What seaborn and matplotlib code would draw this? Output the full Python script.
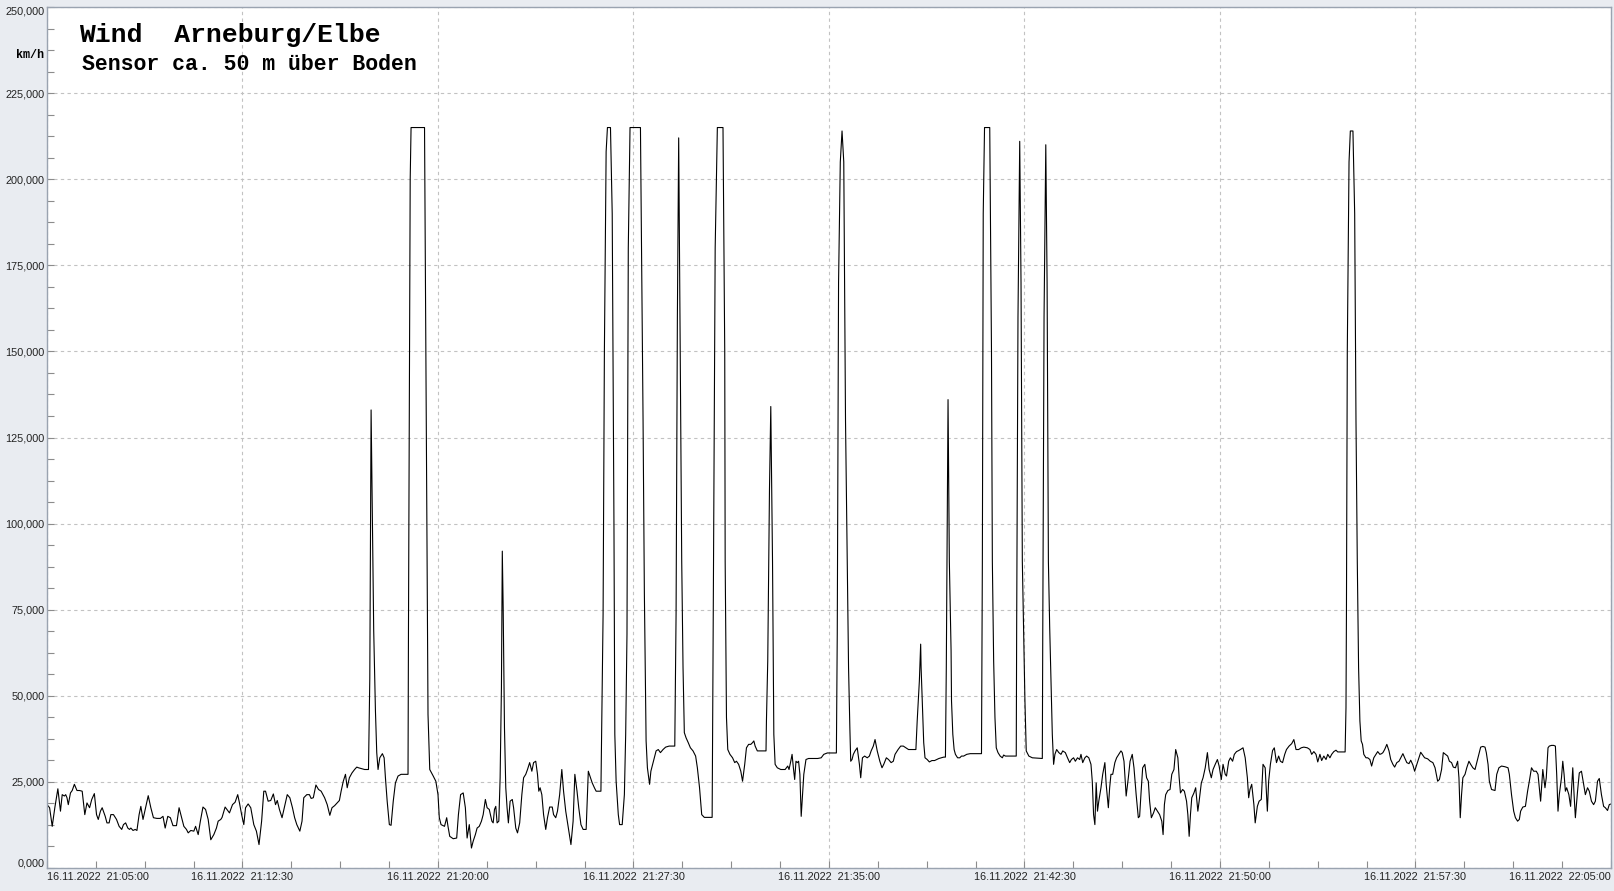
import matplotlib
matplotlib.use("Agg")
import matplotlib.pyplot as plt
import seaborn as sns
import pandas as pd
from matplotlib.ticker import MultipleLocator

# ---------------- data ----------------
# seconds after 16.11.2022 21:05:00
seconds = [
    0, 6, 12, 18, 25, 31, 35, 40, 43, 46, 49, 54, 58, 63, 69, 75, 81, 87, 92, 98,
    103, 109, 114, 118, 123, 127, 134, 138, 143, 147, 153, 160, 166, 172, 176, 181, 186, 190, 193, 198,
    203, 207, 212, 216, 221, 226, 233, 239, 245, 253, 261, 267, 272, 278, 284, 290, 298, 304, 310, 315,
    321, 325, 331, 338, 342, 348, 353, 359, 365, 371, 377, 384, 390, 394, 400, 403, 410, 414, 420, 427,
    433, 439, 443, 448, 453, 457, 463, 469, 476, 482, 488, 494, 499, 503, 509,
    515, 521, 526, 530, 535, 541, 547, 553, 559, 565, 570, 575, 582, 587, 591, 598, 604, 608, 613, 619,
    625, 631, 639, 645, 651, 656, 662, 668, 673, 677, 682, 687, 691, 696, 702, 708, 713, 717, 723, 731,
    740, 743, 746, 752, 756, 759, 762, 766, 772, 776, 779, 783, 788, 792, 797, 802, 808, 815, 831, 832,
    836, 838, 869, 877, 881, 889, 895, 900, 903, 907, 915, 920, 923, 927, 935, 943, 947, 952, 958, 963,
    967, 972, 977, 981, 986, 990, 995, 1000, 1004, 1009, 1013, 1018, 1024,
    1027, 1030, 1033, 1036, 1040, 1043, 1046, 1048, 1050, 1053, 1056, 1059, 1062, 1066, 1071, 1074, 1079, 1083, 1088, 1093,
    1097, 1102, 1106, 1111, 1116, 1120, 1125, 1129, 1132, 1135, 1139, 1143, 1148, 1152, 1157, 1163, 1166, 1171, 1175, 1180,
    1185, 1189, 1194, 1200, 1206, 1211, 1215, 1220, 1224, 1229, 1234, 1241, 1246, 1251, 1255, 1260, 1264, 1275, 1280, 1283,
    1287, 1290, 1297, 1301, 1305, 1307, 1310, 1315, 1318, 1324, 1329, 1332, 1335, 1338, 1342, 1366, 1372, 1375, 1379, 1382,
    1387, 1390, 1396, 1402, 1407, 1412, 1418, 1424, 1432, 1445, 1448, 1451, 1454, 1457, 1461, 1464, 1467, 1471, 1476, 1481,
    1487, 1493, 1497, 1502, 1507, 1513, 1521, 1531, 1533, 1538, 1543, 1556, 1560, 1561,
    1564, 1567, 1572, 1578, 1583, 1587, 1592, 1597, 1601, 1606, 1610, 1615, 1620, 1624, 1627, 1630, 1635, 1655, 1656, 1659,
    1663, 1666, 1670, 1673, 1676, 1681, 1689, 1699, 1705, 1708, 1712, 1715, 1718, 1721, 1724, 1727, 1730, 1733, 1736, 1739,
    1742, 1747, 1753, 1774, 1782, 1788, 1796, 1817, 1819, 1822, 1826, 1830, 1834, 1838, 1842, 1845, 1848, 1850, 1853, 1856,
    1860, 1865, 1870, 1873, 1877, 1882, 1888, 1893, 1897, 1902, 1906, 1911, 1917, 1922, 1926, 1932, 1937, 1943, 1948, 1952,
    1959, 1965, 1971, 1977, 1983, 2000, 2003, 2008, 2011, 2012, 2015, 2018, 2021, 2026, 2031, 2037, 2043, 2053,
    2064, 2068, 2070, 2074, 2077, 2081, 2082, 2085, 2088, 2091, 2096, 2101, 2105, 2110, 2117, 2125, 2151, 2153, 2155, 2158,
    2170, 2174, 2176, 2179, 2182, 2185, 2189, 2194, 2199, 2202, 2206, 2231, 2232, 2235, 2239, 2242, 2245, 2248, 2251, 2254,
    2260, 2268, 2291, 2292, 2295, 2299, 2302, 2305, 2308, 2311, 2314, 2317, 2320, 2324, 2329, 2334, 2338, 2344, 2349, 2354,
    2358, 2363, 2367, 2372, 2377, 2380, 2384, 2389, 2393, 2398, 2403, 2406, 2409, 2412, 2415, 2418, 2421, 2426, 2430, 2435,
    2438, 2443, 2446, 2449, 2453, 2458, 2462, 2467, 2472, 2475, 2479, 2484, 2489, 2493, 2498, 2502, 2507, 2512, 2515, 2518,
    2522, 2527, 2531, 2535, 2538, 2542, 2547, 2551, 2556, 2561,
    2566, 2569, 2572, 2575, 2580, 2585, 2589, 2594, 2598, 2603, 2606, 2609, 2614, 2618, 2623, 2626, 2629, 2632, 2635, 2640,
    2644, 2649, 2652, 2657, 2661, 2666, 2671, 2675, 2680, 2684, 2689, 2694, 2698, 2703, 2707, 2712, 2715, 2720, 2724, 2729,
    2733, 2738, 2743, 2747, 2753, 2758, 2763, 2766, 2769, 2773, 2778, 2781, 2786, 2790, 2795, 2799, 2804, 2807, 2809, 2812,
    2816, 2821, 2825, 2830, 2835, 2839, 2844, 2849, 2853, 2859, 2865, 2870, 2875, 2881, 2887, 2893, 2901, 2907, 2911, 2916,
    2921, 2925, 2930, 2934, 2939, 2944, 2948, 2953, 2957, 2962, 2967, 2971, 2988, 2990, 2991, 2993, 2997, 3000, 3006, 3010,
    3013, 3016, 3019, 3022, 3025, 3028, 3031, 3036, 3040, 3045, 3049, 3054, 3059, 3063, 3068, 3072,
    3075, 3079, 3084, 3089, 3093, 3098, 3102, 3107, 3112, 3116, 3121, 3125, 3130, 3135, 3139, 3144, 3148, 3153, 3158, 3162,
    3167, 3171, 3178, 3184, 3190, 3195, 3198, 3201, 3205, 3210, 3214, 3219, 3224, 3228, 3233, 3237, 3242, 3247, 3250, 3253,
    3256, 3259, 3264, 3268, 3273, 3277, 3282, 3287, 3291, 3296, 3300, 3305, 3310, 3313, 3317, 3320, 3325, 3333, 3337, 3342,
    3348, 3356, 3363, 3366, 3371, 3376, 3380, 3385, 3389, 3392, 3397, 3403, 3408, 3412, 3417, 3422, 3428, 3432, 3438, 3443,
    3448, 3451, 3455, 3458, 3463, 3468, 3472, 3475, 3478, 3481, 3486, 3489, 3492, 3495, 3498, 3503, 3507, 3512, 3515, 3518,
    3523, 3527, 3532, 3537, 3541, 3546, 3550, 3555, 3560, 3564, 3569, 3573, 3578, 3583, 3587, 3592, 3596, 3600,
]

# wind speed, km/h
speed_kmh = [
    18.4, 17.5, 12.1, 17.5, 23.0, 16.5, 21.3, 20.9, 21.3, 20.4, 18.4, 21.8, 22.5, 24.3, 22.5, 22.5, 22.3, 15.5, 18.9, 17.5,
    19.9, 21.6, 15.5, 14.1, 16.5, 17.5, 15.0, 13.1, 13.1, 15.5, 15.5, 14.1, 12.1, 11.2, 12.6, 13.1, 11.6, 11.2, 11.6, 10.9,
    11.2, 10.9, 15.5, 17.9, 14.1, 17.0, 21.0, 17.5, 14.6, 14.4, 14.4, 15.0, 11.6, 15.0, 14.6, 12.3, 12.3, 17.5, 14.6, 12.1,
    11.2, 10.2, 10.9, 10.7, 12.1, 9.7, 13.6, 17.7, 17.0, 14.1, 8.2, 9.7, 11.6, 13.6, 14.1, 14.7, 17.7, 17.0, 16.0, 18.4,
    19.1, 21.3, 18.9, 15.5, 12.6, 17.5, 18.6, 17.5, 12.6, 10.7, 6.8, 13.6, 22.3, 22.3, 19.4,
    19.6, 21.5, 18.4, 19.6, 17.0, 14.6, 17.9, 21.3, 20.4, 17.5, 14.6, 12.6, 10.7, 13.6, 20.4, 21.3, 21.3, 20.2, 20.4, 24.1,
    22.8, 22.3, 20.4, 18.4, 15.3, 17.5, 18.1, 18.9, 19.6, 22.3, 25.2, 27.2, 23.3, 26.2, 27.6, 28.6, 29.3, 29.1, 28.9, 28.6,
    28.6, 55.0, 133.0, 69.0, 45.6, 33.5, 28.6, 32.0, 33.2, 32.0, 26.2, 19.4, 12.6, 12.4, 19.4, 24.7, 26.7, 27.2, 27.2, 68.0,
    200.0, 215.0, 215.0, 44.6, 28.6, 26.7, 25.2, 21.3, 14.6, 12.6, 12.1, 14.6, 12.1, 9.2, 8.5, 8.7, 15.5, 21.3, 21.8, 17.5,
    8.7, 12.6, 5.8, 7.8, 9.7, 11.6, 12.1, 13.6, 15.5, 19.9, 17.5, 17.0, 13.6,
    13.1, 17.0, 17.9, 13.1, 13.6, 26.2, 52.4, 92.0, 75.7, 40.7, 23.3, 17.5, 13.1, 19.4, 19.9, 17.5, 11.6, 10.2, 13.1, 21.3,
    26.2, 27.2, 28.6, 30.6, 28.1, 30.6, 31.0, 27.2, 22.3, 23.3, 21.3, 15.5, 11.2, 14.6, 17.7, 17.7, 15.5, 14.6, 16.5, 21.3,
    28.6, 22.3, 16.5, 11.6, 6.8, 13.6, 27.2, 22.3, 17.5, 12.6, 11.2, 11.2, 28.1, 26.2, 24.7, 23.3, 22.3, 22.3, 73.7, 150.0,
    208.0, 215.0, 215.0, 190.0, 100.0, 38.8, 25.2, 15.5, 12.6, 12.6, 21.3, 38.8, 67.9, 180.0, 215.0, 215.0, 130.0, 80.0, 36.9, 29.1,
    24.3, 28.1, 31.0, 34.0, 34.4, 33.5, 34.4, 35.1, 35.4, 35.4, 73.7, 160.0, 212.0, 160.0, 89.0, 58.2, 39.3, 37.8, 36.4, 34.9,
    34.0, 32.5, 29.1, 23.3, 15.5, 14.7, 14.7, 14.7, 60.0, 180.0, 215.0, 215.0, 150.0, 89.0,
    43.7, 34.4, 33.0, 32.0, 30.6, 31.0, 30.1, 28.1, 25.2, 30.1, 34.9, 35.9, 35.9, 36.4, 36.9, 35.4, 34.0, 34.0, 42.7, 60.1,
    110.0, 134.0, 89.0, 38.8, 30.1, 29.1, 28.6, 28.6, 29.6, 28.6, 31.0, 33.0, 29.1, 25.7, 31.0, 30.6, 31.0, 27.2, 15.0, 21.3,
    27.2, 31.5, 31.8, 31.8, 32.0, 33.0, 33.4, 33.4, 67.9, 170.0, 205.0, 214.0, 205.0, 130.0, 89.0, 58.2, 40.7, 31.0, 31.5, 33.0,
    34.0, 34.9, 30.1, 26.2, 32.0, 32.5, 32.0, 32.5, 34.0, 35.4, 37.3, 34.0, 31.0, 29.1, 30.1, 32.0, 31.5, 30.6, 31.0, 33.0,
    34.4, 35.4, 35.4, 34.9, 34.4, 34.4, 42.7, 54.3, 65.0, 58.2, 47.5, 36.4, 32.0, 31.5, 30.8, 31.2, 31.2, 31.8,
    32.2, 32.2, 58.2, 136.0, 89.0, 63.1, 48.5, 38.8, 34.4, 33.0, 32.0, 32.0, 32.5, 32.5, 33.0, 33.2, 33.2, 89.0, 190.0, 215.0,
    215.0, 150.0, 89.0, 60.1, 43.7, 34.9, 33.5, 32.5, 32.0, 32.8, 32.5, 32.5, 70.8, 160.0, 211.0, 170.0, 89.0, 68.9, 48.5, 34.0,
    32.5, 32.0, 31.8, 66.9, 160.0, 210.0, 170.0, 89.0, 69.8, 54.3, 38.8, 30.1, 33.0, 34.4, 33.5, 33.0, 34.0, 33.5, 32.0, 30.6,
    31.5, 32.0, 31.0, 32.0, 31.5, 33.0, 30.6, 32.0, 32.5, 32.0, 30.1, 25.2, 15.5, 12.6, 24.7, 16.5, 19.4, 23.3, 27.2, 30.6,
    24.3, 17.5, 23.3, 27.2, 27.2, 30.6, 32.0, 33.0, 34.0, 33.5, 31.0, 20.9, 26.2, 31.0, 33.0, 29.1, 21.3, 14.6, 15.0, 21.3,
    29.1, 30.1, 26.2, 25.2, 19.4, 14.6, 16.0, 17.5, 16.5, 15.5,
    13.6, 9.7, 18.4, 21.3, 22.5, 22.8, 27.2, 28.6, 34.4, 32.0, 26.2, 21.8, 22.8, 22.3, 19.4, 15.5, 9.2, 15.5, 20.4, 21.8,
    23.3, 16.5, 19.4, 24.7, 26.2, 29.1, 33.5, 28.6, 26.2, 28.6, 30.1, 31.5, 29.6, 25.7, 30.1, 27.2, 26.7, 31.0, 32.0, 31.0,
    33.0, 33.8, 34.1, 34.4, 34.9, 32.0, 26.2, 20.4, 22.8, 24.3, 18.4, 13.1, 17.9, 19.4, 19.9, 30.1, 29.1, 21.3, 16.5, 25.2,
    30.1, 34.1, 34.9, 30.6, 32.5, 31.0, 30.6, 33.0, 34.4, 35.4, 36.1, 37.3, 34.4, 34.4, 34.9, 35.1, 34.9, 34.4, 33.0, 33.8,
    33.0, 30.8, 33.0, 31.2, 32.5, 31.5, 33.0, 32.0, 33.0, 33.8, 34.2, 33.7, 33.7, 46.6, 72.8, 150.0, 205.0, 214.0, 214.0, 190.0,
    130.0, 89.0, 58.2, 42.7, 36.9, 35.9, 33.0, 32.0, 32.0, 31.5, 29.6, 32.0, 33.0, 33.8, 33.0, 33.2,
    33.5, 34.4, 35.9, 34.0, 31.5, 30.1, 29.3, 30.6, 31.0, 32.0, 33.2, 32.0, 30.6, 30.3, 31.3, 29.9, 28.1, 30.1, 32.0, 33.6,
    32.7, 32.0, 31.7, 31.0, 30.6, 29.1, 27.2, 25.2, 25.7, 28.6, 33.5, 33.0, 32.5, 31.0, 30.6, 29.3, 29.1, 31.0, 26.2, 14.6,
    21.3, 26.2, 27.2, 29.1, 31.0, 30.1, 29.1, 28.6, 30.6, 33.0, 35.1, 35.3, 35.1, 33.5, 30.1, 25.2, 22.8, 22.5, 27.2, 29.1,
    29.6, 29.4, 29.1, 27.2, 21.3, 16.5, 14.6, 13.6, 14.1, 16.5, 17.7, 17.9, 22.3, 25.2, 29.1, 28.1, 28.1, 27.2, 19.4, 28.6,
    23.3, 26.2, 34.9, 35.4, 35.6, 35.6, 35.4, 27.2, 16.5, 21.3, 26.2, 31.0, 27.2, 22.3, 23.3, 21.3, 17.9, 29.1, 21.3, 14.6,
    22.3, 27.6, 28.1, 24.3, 21.3, 23.3, 22.3, 19.4, 18.4, 19.4, 25.2, 26.0, 21.3, 17.9, 17.5, 16.7, 18.4, 18.6,
]

xtick_seconds = [0, 450, 900, 1350, 1800, 2250, 2700, 3150, 3600]
xtick_labels = [
    "16.11.2022  21:05:00", "16.11.2022  21:12:30", "16.11.2022  21:20:00",
    "16.11.2022  21:27:30", "16.11.2022  21:35:00", "16.11.2022  21:42:30",
    "16.11.2022  21:50:00", "16.11.2022  21:57:30", "16.11.2022  22:05:00",
]
ytick_values = [0, 25, 50, 75, 100, 125, 150, 175, 200, 225, 250]
ytick_labels = ["0,000", "25,000", "50,000", "75,000", "100,000", "125,000",
                "150,000", "175,000", "200,000", "225,000", "250,000"]

title = "Wind  Arneburg/Elbe"
subtitle = "Sensor ca. 50 m über Boden"
unit_label = "km/h"

# ---------------- drawing ----------------
sns.set_style("white")
plt.rcParams["font.family"] = ["Liberation Sans", "DejaVu Sans"]

W, H = 1615, 891
fig = plt.figure(figsize=(W / 100, H / 100), dpi=100, facecolor="#e9ecf1")
ax = fig.add_axes([47 / W, 23 / H, 1564 / W, 861 / H])
ax.set_facecolor("white")

df = pd.DataFrame({"t": seconds, "v": speed_kmh})
sns.lineplot(data=df, x="t", y="v", ax=ax, color="black", linewidth=0.8,
             sort=False, estimator=None)

ax.set_xlim(0, 3600)
ax.set_ylim(0, 250)
ax.set_xlabel("")
ax.set_ylabel("")

ax.set_xticks(xtick_seconds)
ax.set_xticklabels(xtick_labels)
ax.xaxis.set_minor_locator(MultipleLocator(112.5))
ax.set_yticks(ytick_values)
ax.set_yticklabels(ytick_labels)
ax.yaxis.set_minor_locator(MultipleLocator(6.25))

ax.grid(True, which="major", color="#c2c2c2", linestyle=(0, (3, 3)), linewidth=0.8)
ax.tick_params(which="both", direction="in", color="#8c8c8c", width=0.8, length=5,
               bottom=True, left=True, top=False, right=False)
ax.tick_params(axis="x", which="major", pad=3, labelsize=7.8, labelcolor="#222222")
ax.tick_params(axis="y", which="major", pad=2, labelsize=7.8, labelcolor="#222222")

for s in ax.spines.values():
    s.set_visible(True)
    s.set_color("#9aa3b0")
    s.set_linewidth(1.0)

xl = ax.get_xticklabels()
xl[0].set_ha("left")
xl[-1].set_ha("right")
yl = ax.get_yticklabels()
yl[0].set_va("bottom")
yl[-1].set_va("top")

mono = ["Liberation Mono", "DejaVu Sans Mono"]
fig.text(79 / W, 1 - 42 / H, title, family=mono, weight="bold", fontsize=19,
         ha="left", va="baseline", color="black")
fig.text(82 / W, 1 - 70 / H, subtitle, family=mono, weight="bold", fontsize=15.5,
         ha="left", va="baseline", color="black")
fig.text(30 / W, 1 - 58 / H, unit_label, family=mono, weight="bold", fontsize=8.5,
         ha="center", va="baseline", color="black")

fig.savefig("out.png", dpi=100, facecolor=fig.get_facecolor())
